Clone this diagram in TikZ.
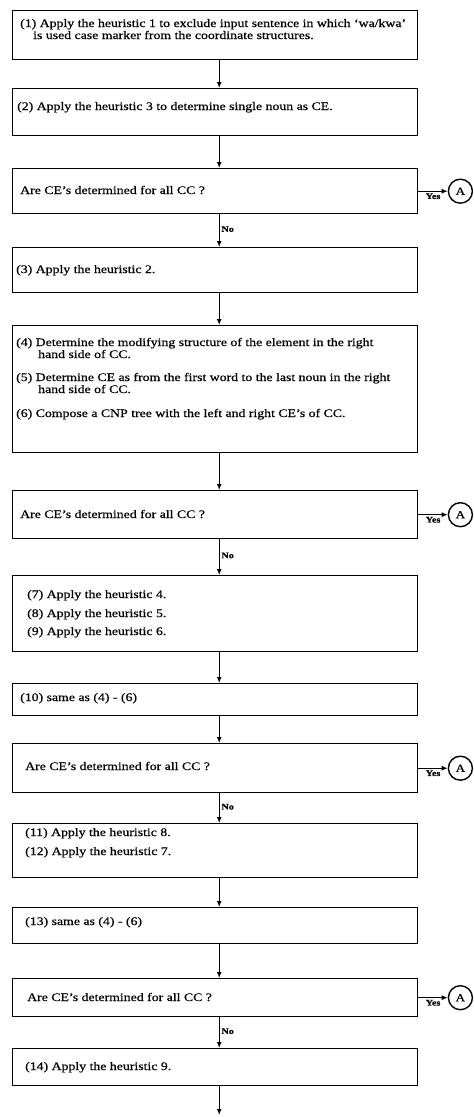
\documentclass[tikz,border=0pt]{standalone}
\usepackage{fontspec}
\setmainfont{Liberation Serif}[FakeStretch=1.2,FakeBold=0.6]
\usetikzlibrary{arrows.meta}
\begin{document}
\begin{tikzpicture}[x=1pt,y=-1pt,
  box/.style={draw, line width=1.4pt, minimum width=405pt, anchor=north west, inner sep=0pt},
  txt/.style={anchor=base west, inner sep=0pt, font=\fontsize{11.5}{11}\selectfont},
  lbl/.style={font=\fontsize{8.5}{9}\selectfont\bfseries, inner sep=1.5pt},
  conn/.style={draw, line width=1.4pt, circle, minimum size=24pt, inner sep=0pt, font=\fontsize{11}{11}\selectfont},
  arr/.style={line width=1.4pt, -{Latex[length=6pt,width=5pt]}}]
\useasboundingbox (0,0) rectangle (474,1117);

% boxes
\node[box, minimum height=49pt]  (b1) at (12,10)   {};
\node[box, minimum height=47pt]  (b2) at (12,88)   {};
\node[box, minimum height=45pt]  (d1) at (12,168)  {};
\node[box, minimum height=45pt]  (b3) at (12,247)  {};
\node[box, minimum height=127pt] (b4) at (12,325)  {};
\node[box, minimum height=48pt]  (d2) at (12,490)  {};
\node[box, minimum height=76pt]  (b5) at (12,575)  {};
\node[box, minimum height=32pt]  (b6) at (12,683)  {};
\node[box, minimum height=49pt]  (d3) at (12,743)  {};
\node[box, minimum height=54pt]  (b7) at (12,823)  {};
\node[box, minimum height=36pt]  (b8) at (12,907)  {};
\node[box, minimum height=38pt]  (d4) at (12,978)  {};
\node[box, minimum height=37pt]  (b9) at (12,1048) {};

% texts
\node[txt] (t1a) at (20,27)  {(1) Apply the heuristic 1 to exclude input sentence in which `wa/kwa'};
\node[txt] (t1b) at (33,39)  {is used case marker from the coordinate structures.};
\node[txt] (t2)  at (17,110) {(2) Apply the heuristic 3 to determine single noun as CE.};
\node[txt] (q1)  at (20,194) {Are CE's determined for all CC ?};
\node[txt] (t3)  at (16,273) {(3) Apply the heuristic 2.};
\node[txt] (t4a) at (16,346) {(4) Determine the modifying structure of the element in the right};
\node[txt] (t4b) at (38,358) {hand side of CC.};
\node[txt] (t5a) at (16,381) {(5) Determine CE as from the first word to the last noun in the right};
\node[txt] (t5b) at (38,393) {hand side of CC.};
\node[txt] (t6)  at (16,417) {(6) Compose a CNP tree with the left and right CE's of CC.};
\node[txt] (q2)  at (20,518) {Are CE's determined for all CC ?};
\node[txt] (t7)  at (27,598) {(7) Apply the heuristic 4.};
\node[txt] (t8)  at (27,617) {(8) Apply the heuristic 5.};
\node[txt] (t9)  at (27,635) {(9) Apply the heuristic 6.};
\node[txt] (t10) at (20,701) {(10) same as (4) - (6)};
\node[txt] (q3)  at (25,770) {Are CE's determined for all CC ?};
\node[txt] (t11) at (25,836) {(11) Apply the heuristic 8.};
\node[txt] (t12) at (25,855) {(12) Apply the heuristic 7.};
\node[txt] (t13) at (25,925) {(13) same as (4) - (6)};
\node[txt] (q4)  at (27,1001) {Are CE's determined for all CC ?};
\node[txt] (t14) at (25,1070) {(14) Apply the heuristic 9.};

% connectors A
\node[conn] (a1) at ([xshift=42pt]d1.east) {A};
\node[conn] (a2) at ([xshift=42pt]d2.east) {A};
\node[conn] (a3) at ([xshift=42pt]d3.east) {A};
\node[conn] (a4) at ([xshift=42pt]d4.east) {A};

% vertical flow
\draw[arr] ([xshift=4pt]b1.south) -- ([xshift=4pt]b2.north);
\draw[arr] ([xshift=4pt]b2.south) -- ([xshift=4pt]d1.north);
\draw[arr] ([xshift=4pt]d1.south) -- node[lbl, right, pos=0.45] {No} ([xshift=4pt]b3.north);
\draw[arr] ([xshift=4pt]b3.south) -- ([xshift=4pt]b4.north);
\draw[arr] ([xshift=4pt]b4.south) -- ([xshift=4pt]d2.north);
\draw[arr] ([xshift=4pt]d2.south) -- node[lbl, right, pos=0.45] {No} ([xshift=4pt]b5.north);
\draw[arr] ([xshift=4pt]b5.south) -- ([xshift=4pt]b6.north);
\draw[arr] ([xshift=4pt]b6.south) -- ([xshift=4pt]d3.north);
\draw[arr] ([xshift=4pt]d3.south) -- node[lbl, right, pos=0.45] {No} ([xshift=4pt]b7.north);
\draw[arr] ([xshift=4pt]b7.south) -- ([xshift=4pt]b8.north);
\draw[arr] ([xshift=4pt]b8.south) -- ([xshift=4pt]d4.north);
\draw[arr] ([xshift=4pt]d4.south) -- node[lbl, right, pos=0.45] {No} ([xshift=4pt]b9.north);
\coordinate (end) at ([xshift=4pt]b9.south |- 0,1115);
\draw[arr] ([xshift=4pt]b9.south) -- (end);

% yes branches
\draw[arr] (d1.east) -- node[lbl, below, pos=0.5] {Yes} (a1);
\draw[arr] (d2.east) -- node[lbl, below, pos=0.5] {Yes} (a2);
\draw[arr] (d3.east) -- node[lbl, below, pos=0.5] {Yes} (a3);
\draw[arr] (d4.east) -- node[lbl, below, pos=0.5] {Yes} (a4);
\end{tikzpicture}
\end{document}
